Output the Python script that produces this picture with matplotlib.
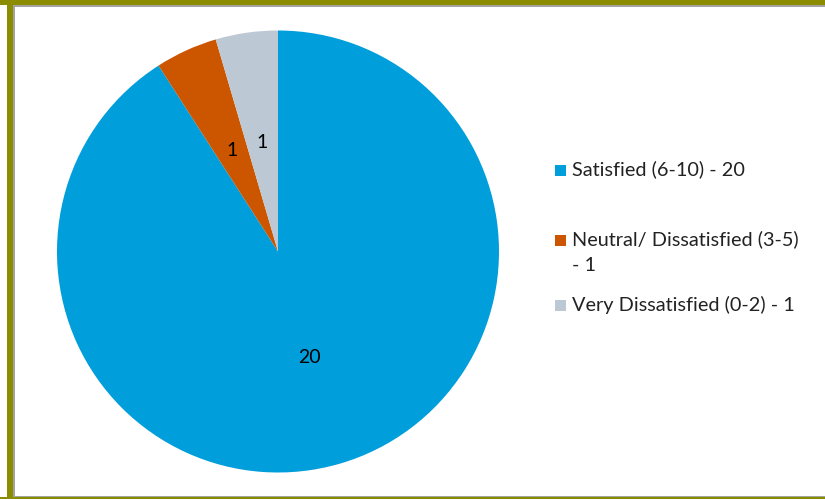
import matplotlib
matplotlib.use("Agg")
import matplotlib.pyplot as plt
from matplotlib.patches import Rectangle

categories = ["Satisfied (6-10)", "Neutral/ Dissatisfied (3-5)", "Very Dissatisfied (0-2)"]
counts = [20, 1, 1]
legend_labels = ["Satisfied (6-10) - 20", "Neutral/ Dissatisfied (3-5)\n- 1", "Very Dissatisfied (0-2) - 1"]
colors = ["#009EDB", "#CC5500", "#BCC8D4"]

plt.rcParams["font.family"] = ["Lato", "DejaVu Sans"]

W, H = 825, 499
fig = plt.figure(figsize=(W / 100, H / 100), dpi=100)
fig.patch.set_facecolor("white")

def px_rect(x0, y0, x1, y1, color):
    # rectangle in pixel coordinates measured from the top-left corner
    fig.add_artist(Rectangle((x0 / W, 1 - y1 / H), (x1 - x0) / W, (y1 - y0) / H,
                             transform=fig.transFigure, facecolor=color,
                             edgecolor="none", zorder=0))

# frame around the chart area
olive, grey = "#8C8C00", "#A3A3A3"
px_rect(7, 0, 13, H, olive)
px_rect(0, 0, W, 5, olive)
px_rect(0, 497, W, H, olive)
px_rect(13, 5, 15, 497, grey)
px_rect(13, 5, W, 7, grey)
px_rect(13, 495.5, W, 497, grey)

# pie area: centre (278, 251.5) px, radius 221 px
cx, cy, r = 278, 251.5, 221
ax = fig.add_axes([(cx - r) / W, 1 - (cy + r) / H, 2 * r / W, 2 * r / H])
total = sum(counts)
wedges, texts, autotexts = ax.pie(
    counts, colors=colors, startangle=90, counterclock=False,
    autopct=lambda p: f"{round(p * total / 100)}", pctdistance=0.5,
    wedgeprops=dict(linewidth=0),
    textprops=dict(fontsize=14, color="black"))
ax.set_xlim(-1, 1)
ax.set_ylim(-1, 1)
ax.set_aspect("equal")
ax.axis("off")

# legend drawn at fixed pixel positions
entry_y = [170, 240, 305]
line_step = 26
for label, color, y in zip(legend_labels, colors, entry_y):
    px_rect(555, y - 5, 566, y + 6, color)
    for i, line in enumerate(label.split("\n")):
        fig.text(572 / W, 1 - (y - 2 + i * line_step) / H, line, fontsize=14.3,
                 color="#222222", ha="left", va="center_baseline")

fig.savefig("out.png", dpi=100)
